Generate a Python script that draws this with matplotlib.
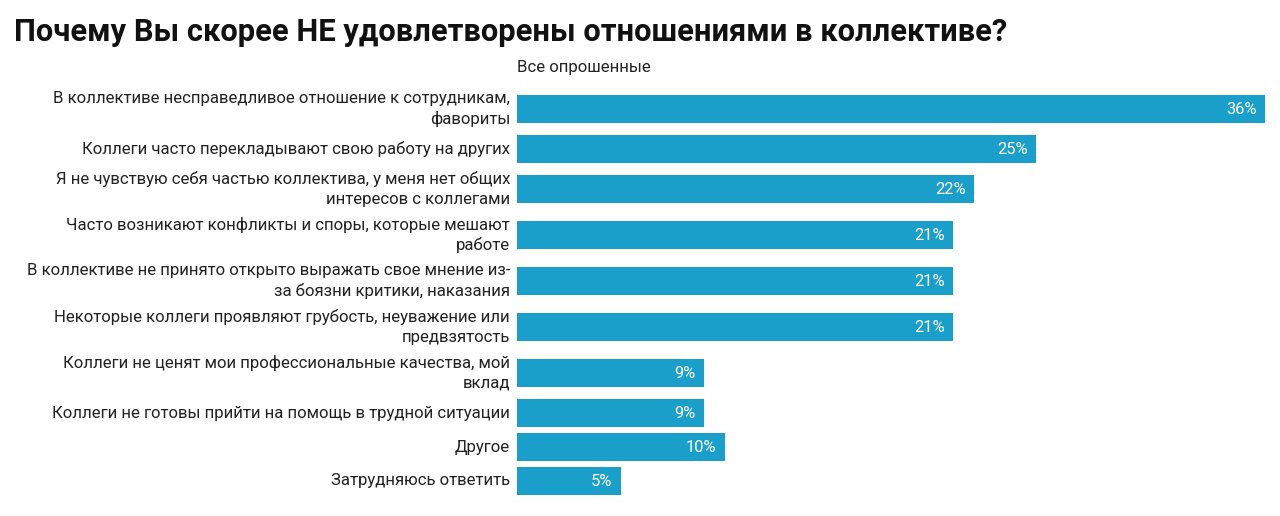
import matplotlib
matplotlib.use("Agg")
import matplotlib.pyplot as plt

title = "Почему Вы скорее НЕ удовлетворены отношениями в коллективе?"
series_name = "Все опрошенные"
categories = [
    "В коллективе несправедливое отношение к сотрудникам,\nфавориты",
    "Коллеги часто перекладывают свою работу на других",
    "Я не чувствую себя частью коллектива, у меня нет общих\nинтересов с коллегами",
    "Часто возникают конфликты и споры, которые мешают\nработе",
    "В коллективе не принято открыто выражать свое мнение из-\nза боязни критики, наказания",
    "Некоторые коллеги проявляют грубость, неуважение или\nпредвзятость",
    "Коллеги не ценят мои профессиональные качества, мой\nвклад",
    "Коллеги не готовы прийти на помощь в трудной ситуации",
    "Другое",
    "Затрудняюсь ответить",
]
values = [36, 25, 22, 21, 21, 21, 9, 9, 10, 5]

plt.rcParams['font.family'] = ['Roboto', 'DejaVu Sans']
W, H = 1280, 516
fig = plt.figure(figsize=(W / 100, H / 100), dpi=100)
fig.patch.set_facecolor("white")

# row heights depend on number of label lines
row_h = [46 if "\n" in c else 34 for c in categories]
centers = []
acc = 0
for h in row_h:
    centers.append(acc + h / 2)
    acc += h
total = acc

top_px, left_px, right_px = 86, 517, 1265
ax = fig.add_axes([left_px / W, 1 - (top_px + total) / H,
                   (right_px - left_px) / W, total / H])
color = "#1a9fcb"
ax.barh(centers, values, height=28, color=color)
ax.set_ylim(total, 0)
ax.set_xlim(0, max(values))
ax.axis("off")

for y, v, c in zip(centers, values, categories):
    ax.annotate(f"{v}%", (v, y), xytext=(-6, 0), textcoords="offset points",
                ha="right", va="center", color="white", fontsize=11.8)
    ax.annotate(c, (0, y), xytext=(-5, 0), textcoords="offset points",
                ha="right", va="center", color="#222222", fontsize=12.1,
                linespacing=1.35)

ax.annotate(series_name, (0, 0), xytext=(0, 8), textcoords="offset points",
            ha="left", va="bottom", color="#222222", fontsize=12.1)

fig.text(14 / W, 1 - 41 / H, title, fontsize=22.2, fontweight="bold",
         color="#111111", ha="left", va="baseline")

fig.savefig("out.png", dpi=100, facecolor="white")
